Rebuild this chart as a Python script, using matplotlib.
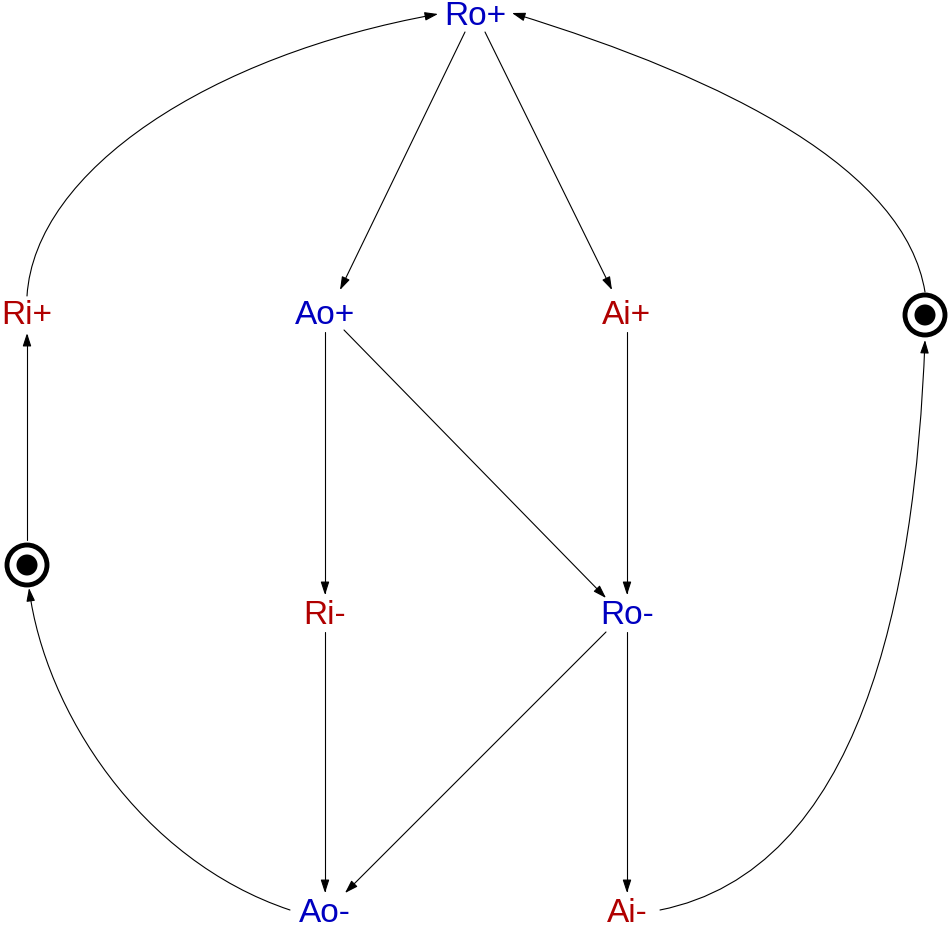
import matplotlib
matplotlib.use("Agg")
import matplotlib.pyplot as plt
from matplotlib.patches import FancyArrowPatch, Circle
from matplotlib.path import Path

labels = ["Ro+", "Ri+", "Ao+", "Ai+", "Ri-", "Ro-", "Ao-", "Ai-"]
colors = ["#0000c0", "#b00000", "#0000c0", "#b00000", "#b00000", "#0000c0", "#0000c0", "#b00000"]
pos = {"Ro+": (475, 15), "Ri+": (27, 315), "Ao+": (325, 315), "Ai+": (627, 315),
       "Ri-": (325, 615), "Ro-": (627, 615), "Ao-": (325, 913), "Ai-": (627, 913)}
tokens = [(27, 565), (925, 315)]

fig = plt.figure(figsize=(9.51, 9.27), dpi=100)
ax = fig.add_axes([0, 0, 1, 1])
ax.set_xlim(0, 951)
ax.set_ylim(927, 0)
ax.axis("off")

for l, c in zip(labels, colors):
    x, y = pos[l]
    ax.text(x, y + 1, l, color=c, fontsize=24, family="Liberation Sans", ha="center", va="center")

for (x, y) in tokens:
    ax.add_patch(Circle((x, y), 20, facecolor="white", edgecolor="black", lw=3.5))
    ax.add_patch(Circle((x, y), 10.5, facecolor="black", edgecolor="none"))

style = "-|>,head_length=8,head_width=2.6"

def arrow(verts):
    codes = [Path.MOVETO] + ([Path.LINETO] if len(verts) == 2 else [Path.CURVE4] * 3)
    p = FancyArrowPatch(path=Path(verts, codes), arrowstyle=style, mutation_scale=1,
                        color="black", lw=0.8, shrinkA=0, shrinkB=0)
    ax.add_patch(p)

arrow([(465, 32), (340, 290)])
arrow([(485, 32), (612, 290)])
arrow([(325, 332), (325, 595)])
arrow([(344, 330), (606, 598)])
arrow([(627, 332), (627, 595)])
arrow([(325, 632), (325, 893)])
arrow([(606, 632), (345, 893)])
arrow([(627, 632), (627, 893)])
arrow([(27, 540), (27, 333)])
arrow([(27, 296), (35, 170), (210, 55), (438, 14)])
arrow([(925, 292), (905, 170), (730, 80), (512, 13)])
arrow([(290, 910), (140, 860), (45, 710), (29, 588)])
arrow([(660, 910), (860, 870), (915, 600), (925, 340)])

fig.savefig("out.png", dpi=100)
